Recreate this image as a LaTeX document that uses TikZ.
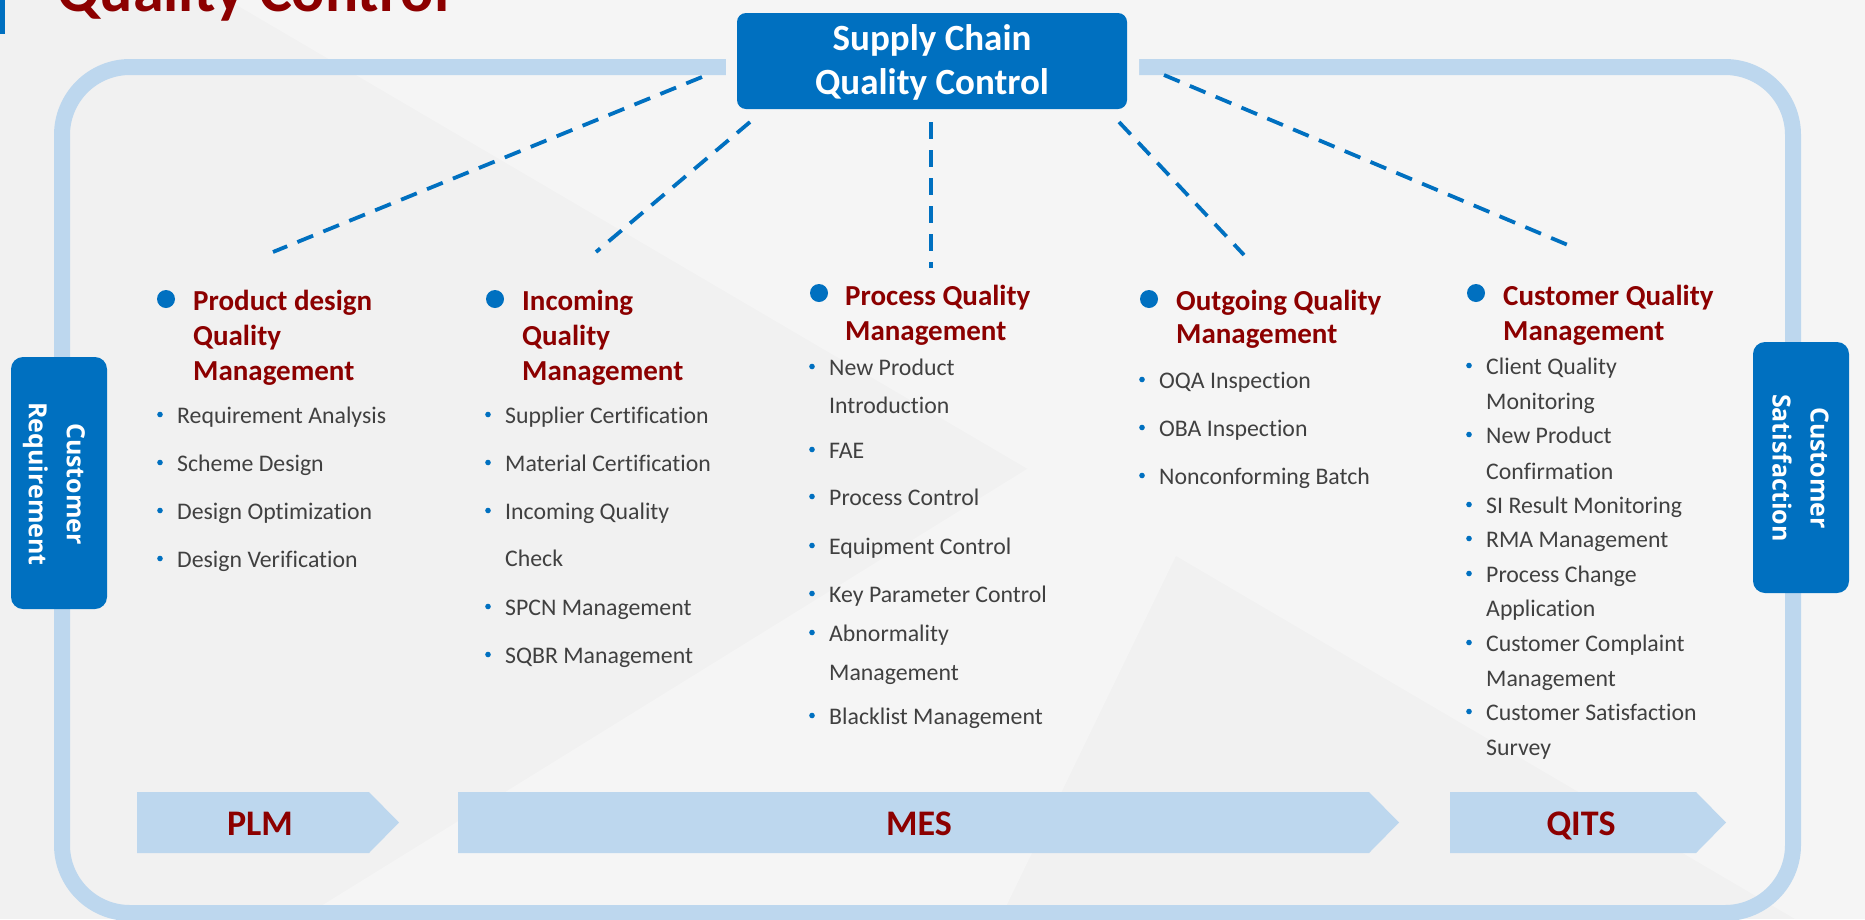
\documentclass[tikz,border=0pt]{standalone}
\usepackage{fontspec}
\setmainfont{Carlito}[Ligatures=NoCommon]
\newfontfamily\vfont{Open Sans}
\definecolor{qblue}{HTML}{0070C0}
\definecolor{lblue}{HTML}{BDD7EE}
\definecolor{dred}{HTML}{8C0000}
\definecolor{gtext}{HTML}{404040}
\definecolor{bgc}{HTML}{F1F1F1}
\definecolor{bgl}{HTML}{F5F5F5}
\newcommand{\qitem}[4]{\node[item] (#1) at (#2,#3) {#4};\fill[qblue] ([xshift=-17pt,yshift=8.5pt]#1.base west) circle (2.8);}
\newcommand{\qcont}[4]{\node[item] (#1) at (#2,#3) {#4};}
\begin{document}
\begin{tikzpicture}[x=1pt,y=-1pt,
  head/.style={font=\bfseries\fontsize{29}{35}\selectfont, text=dred, anchor=base west, inner sep=0pt},
  item/.style={font=\fontsize{23.8}{28}\selectfont, text=gtext, anchor=base west, inner sep=0pt},
  hbul/.style={circle, fill=qblue, minimum size=18pt, inner sep=0pt},
  qdash/.style={qblue, line width=3.8pt, dash pattern=on 17pt off 11pt},
  sidebox/.style={fill=qblue, rounded corners=12pt, minimum width=96pt, inner sep=0pt},
  sidetxt/.style={font=\vfont\bfseries\fontsize{25}{38}\selectfont, text=white, align=center, rotate=-90, inner sep=0pt},
  boxtxt/.style={font=\bfseries\fontsize{37}{44}\selectfont, text=white, anchor=base, inner sep=0pt},
  chev/.style={fill=lblue},
  chevtxt/.style={font=\bfseries\fontsize{36}{40}\selectfont, text=dred, anchor=base, inner sep=0pt}
]
\useasboundingbox (0,0) rectangle (1865,919);
\fill[bgc] (0,0) rectangle (1865,919);
% faint background facets
\fill[bgl] (228,0) -- (1865,0) -- (1865,919) -- (1795,919) -- cycle;
\fill[bgl] (300,919) -- (1000,919) -- (1300,300) -- cycle;
% title
\fill[qblue] (0,0) rectangle (5,34);
\node[font=\bfseries\fontsize{62}{70}\selectfont, text=dred, anchor=base west, inner sep=0pt] (title) at (57,11) {Quality Control};
% frame
\draw[lblue, line width=16pt, rounded corners=68pt] (62,67) rectangle (1793,913);
% halo and main box
\fill[bgl, rounded corners=14pt] (726,2) rectangle (1139,121);
\node[fill=qblue, rounded corners=9pt, minimum width=390pt, minimum height=96pt, inner sep=0pt] (scqc) at (932,61) {};
\node[boxtxt] (scqc1) at (932,50) {Supply Chain};
\node[boxtxt] (scqc2) at (932,94) {Quality Control};
% side boxes
\node[sidebox, minimum height=252pt] (creq) at (59,483) {};
\node[sidetxt] (creqt) at (54,484) {Customer\\Requirement};
\node[sidebox, minimum height=251pt] (csat) at (1801,467.5) {};
\node[sidetxt] (csatt) at (1800.5,468) {Customer\\Satisfaction};
% dashed connectors
\coordinate (d1s) at (702,77);  \coordinate (d1e) at (273,252);
\coordinate (d2s) at (750,122); \coordinate (d2e) at (596,252);
\coordinate (d3s) at (931,122); \coordinate (d3e) at (931,268);
\coordinate (d4s) at (1119,122); \coordinate (d4e) at (1244,255);
\coordinate (d5s) at (1164,75); \coordinate (d5e) at (1575,248);
\draw[qdash] (d1s) -- (d1e);
\draw[qdash] (d2s) -- (d2e);
\draw[qdash] (d3s) -- (d3e);
\draw[qdash] (d4s) -- (d4e);
\draw[qdash] (d5s) -- (d5e);
% column 1
\node[hbul] (b1) at (166,299) {};
\node[head] (h1a) at (193,310) {Product design};
\node[head] (h1b) at (193,345) {Quality};
\node[head] (h1c) at (193,380) {Management};
\qitem{c1a}{177}{423}{Requirement Analysis}
\qitem{c1b}{177}{471}{Scheme Design}
\qitem{c1c}{177}{519}{Design Optimization}
\qitem{c1d}{177}{567}{Design Verification}
% column 2
\node[hbul] (b2) at (495,299) {};
\node[head] (h2a) at (522,310) {Incoming};
\node[head] (h2b) at (522,345) {Quality};
\node[head] (h2c) at (522,380) {Management};
\qitem{c2a}{505}{423}{Supplier Certification}
\qitem{c2b}{505}{471}{Material Certification}
\qitem{c2c}{505}{519}{Incoming Quality}
\qcont{c2d}{505}{566}{Check}
\qitem{c2e}{505}{615}{SPCN Management}
\qitem{c2f}{505}{663}{SQBR Management}
% column 3
\node[hbul] (b3) at (819,293) {};
\node[head] (h3a) at (845,305) {Process Quality};
\node[head] (h3b) at (845,340) {Management};
\qitem{c3a}{829}{375}{New Product}
\qcont{c3b}{829}{413}{Introduction}
\qitem{c3c}{829}{458}{FAE}
\qitem{c3d}{829}{505}{Process Control}
\qitem{c3e}{829}{554}{Equipment Control}
\qitem{c3f}{829}{602}{Key Parameter Control}
\qitem{c3g}{829}{641}{Abnormality}
\qcont{c3h}{829}{680}{Management}
\qitem{c3i}{829}{724}{Blacklist Management}
% column 4
\node[hbul] (b4) at (1149,299) {};
\node[head] (h4a) at (1176,310) {Outgoing Quality};
\node[head] (h4b) at (1176,343) {Management};
\qitem{c4a}{1159}{388}{OQA Inspection}
\qitem{c4b}{1159}{436}{OBA Inspection}
\qitem{c4c}{1159}{484}{Nonconforming Batch}
% column 5
\node[hbul] (b5) at (1476,293) {};
\node[head] (h5a) at (1503,305) {Customer Quality};
\node[head] (h5b) at (1503,340) {Management};
\qitem{c5a}{1486}{374}{Client Quality}
\qcont{c5b}{1486}{409}{Monitoring}
\qitem{c5c}{1486}{443}{New Product}
\qcont{c5d}{1486}{479}{Confirmation}
\qitem{c5e}{1486}{513}{SI Result Monitoring}
\qitem{c5f}{1486}{547}{RMA Management}
\qitem{c5g}{1486}{582}{Process Change}
\qcont{c5h}{1486}{616}{Application}
\qitem{c5i}{1486}{651}{Customer Complaint}
\qcont{c5j}{1486}{686}{Management}
\qitem{c5k}{1486}{720}{Customer Satisfaction}
\qcont{c5l}{1486}{755}{Survey}
% bottom chevrons
\fill[chev] (137,792) -- (369,792) -- (399,822.5) -- (369,853) -- (137,853) -- cycle;
\fill[chev] (458,792) -- (1369,792) -- (1399,822.5) -- (1369,853) -- (458,853) -- cycle;
\fill[chev] (1450,792) -- (1696,792) -- (1726,822.5) -- (1696,853) -- (1450,853) -- cycle;
\node[chevtxt] (plm) at (260,835) {PLM};
\node[chevtxt] (mes) at (919,835) {MES};
\node[chevtxt] (qits) at (1581,835) {QITS};
\end{tikzpicture}
\end{document}
